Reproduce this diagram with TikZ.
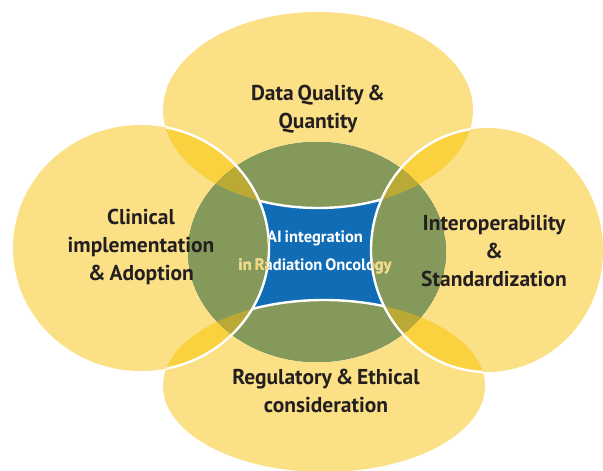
\documentclass[tikz,border=0pt]{standalone}
\usepackage{fontspec}
\newfontfamily\labfont{PT Sans}[WordSpace=0.7]
\definecolor{ylight}{HTML}{FCE086}
\definecolor{ylens}{HTML}{FAD13E}
\definecolor{grn}{HTML}{85995B}
\definecolor{olivelens}{HTML}{BBA935}
\definecolor{blu}{HTML}{106CB5}
\definecolor{labdark}{HTML}{231F20}
\definecolor{paley}{HTML}{F3D77B}
\begin{document}
\begin{tikzpicture}[x=1pt,y=-1pt,
  lab/.style={font=\labfont\bfseries\fontsize{21.5}{28}\selectfont, text=labdark, align=center, inner sep=0pt},
  ctr/.style={font=\labfont\bfseries\fontsize{16.5}{28}\selectfont, align=center, inner sep=0pt},
  wline/.style={draw=white, line width=2.4pt}]
\useasboundingbox (0,0) rectangle (603,471);
\def\ET{(318,110) ellipse [x radius=155pt, y radius=98pt]}
\def\EL{(141,248) ellipse [x radius=128pt, y radius=123pt]}
\def\ER{(487,250) ellipse [x radius=116pt, y radius=122pt]}
\def\EB{(324,386) ellipse [x radius=161pt, y radius=86pt]}
\def\EG{(317,252) ellipse [x radius=129pt, y radius=110pt]}
% yellow ellipses
\fill[ylight] \ET;
\fill[ylight] \EL;
\fill[ylight] \ER;
\fill[ylight] \EB;
% yellow lenses
\begin{scope}
  \clip \ET;
  \fill[ylens] \EL;
  \fill[ylens] \ER;
\end{scope}
\begin{scope}
  \clip \EB;
  \fill[ylens] \EL;
  \fill[ylens] \ER;
\end{scope}
% green centre with blue core
\begin{scope}
  \clip \EG;
  \fill[blu] \EG;
  \fill[grn] \ET \EL \ER \EB;
  \begin{scope}
    \clip \ET;
    \fill[olivelens] \EL \ER;
  \end{scope}
  \begin{scope}
    \clip \EB;
    \fill[olivelens] \EL \ER;
  \end{scope}
\end{scope}
% white edges
\begin{scope}
  \clip \ET \EB \EG;
  \draw[wline] \EL;
  \draw[wline] \ER;
\end{scope}
\begin{scope}
  \clip (259,150) rectangle (381.6,250);
  \draw[wline] \ET;
\end{scope}
\begin{scope}
  \clip (252,280) rectangle (384,350);
  \draw[wline] \EB;
\end{scope}
% labels
\node[lab] (data) at (318,109) {Data Quality \&\\Quantity};
\node[lab] (clin) at (141,247) {Clinical\\implementation\\\& Adoption};
\node[lab] (inter) at (494,251) {Interoperability\\\&\\Standardization};
\node[lab] (reg) at (326,391) {Regulatory \& Ethical\\consideration};
% centre text: white, then pale yellow outside the blue core
\node[ctr, text=white] (ai) at (315,252) {AI integration\\in Radiation Oncology};
\begin{scope}
  \clip \ET \EL \ER \EB;
  \node[ctr, text=paley] (aiy) at (315,252) {AI integration\\in Radiation Oncology};
\end{scope}
\end{tikzpicture}
\end{document}
